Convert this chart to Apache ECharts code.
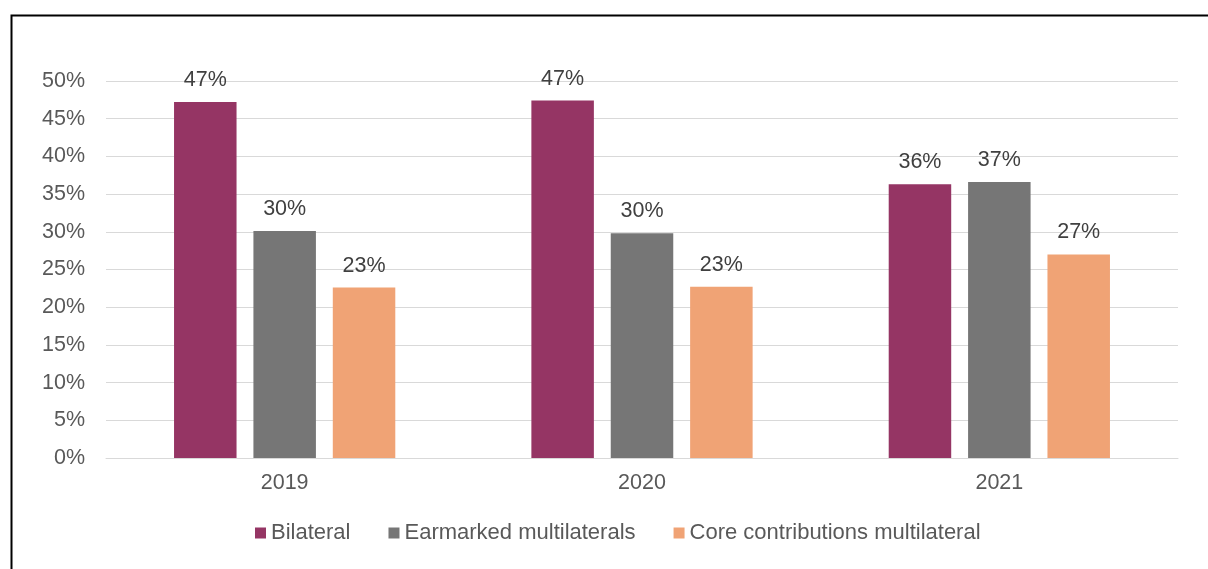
<!DOCTYPE html>
<html>
<head>
<meta charset="utf-8">
<script src="https://cdn.jsdelivr.net/npm/echarts@6/dist/echarts.min.js"></script>
<style>
  html, body { margin: 0; padding: 0; background: #ffffff; overflow: hidden; }
  #chart { width: 1208px; height: 569px; }
</style>
</head>
<body>
<div id="chart"></div>
<script>
// Years on the category axis
const years = ['2019', '2020', '2021'];

// Shares by channel type (percent)
const bilateral = [47.2, 47.4, 36.3];
const earmarkedMultilaterals = [30.1, 29.8, 36.6];
const coreContributions = [22.6, 22.7, 27.0];

// Value axis ticks (percent)
const yMin = 0;
const yMax = 50;
const yStep = 5;

const seriesNames = ['Bilateral', 'Earmarked multilaterals', 'Core contributions multilateral'];
const seriesColors = ['#953564', '#767676', '#F0A375'];
const seriesValues = [bilateral, earmarkedMultilaterals, coreContributions];

const FONT = '"Liberation Sans", Arial, sans-serif';

const chart = echarts.init(document.getElementById('chart'), null, { renderer: 'canvas' });

chart.setOption({
  backgroundColor: '#ffffff',
  animation: false,
  textStyle: { fontFamily: FONT },
  graphic: [{
    type: 'rect',
    left: 9,
    top: 13,
    shape: { x: 0, y: 0, width: 1400, height: 800 },
    style: { fill: 'none', stroke: '#000000', lineWidth: 2 },
    silent: true,
    z: 100
  }],
  grid: { left: 106, right: 30, top: 81, bottom: 111, containLabel: false },
  legend: {
    left: 250,
    top: 517,
    itemWidth: 11,
    itemHeight: 11,
    itemGap: 38,
    icon: 'rect',
    textStyle: { fontFamily: FONT, fontSize: 22, color: '#595959' },
    data: seriesNames
  },
  xAxis: {
    type: 'category',
    data: years,
    axisTick: { show: false },
    axisLine: { show: true, lineStyle: { color: '#d9d9d9', width: 1 } },
    axisLabel: { fontFamily: FONT, fontSize: 21.5, color: '#595959', margin: 14 }
  },
  yAxis: {
    type: 'value',
    min: yMin,
    max: yMax,
    interval: yStep,
    axisLine: { show: false },
    axisTick: { show: false },
    splitLine: { lineStyle: { color: '#d9d9d9', width: 1 } },
    axisLabel: { fontFamily: FONT, fontSize: 21.5, color: '#595959', margin: 21, formatter: '{value}%' }
  },
  series: seriesNames.map((name, i) => ({
    name: name,
    type: 'bar',
    data: seriesValues[i],
    barWidth: 62.5,
    barGap: '27%',
    itemStyle: { color: seriesColors[i] },
    label: {
      show: true,
      position: 'top',
      distance: 11,
      fontFamily: FONT,
      fontSize: 21.5,
      color: '#404040',
      formatter: p => Math.round(p.value) + '%'
    }
  }))
});
</script>
</body>
</html>
